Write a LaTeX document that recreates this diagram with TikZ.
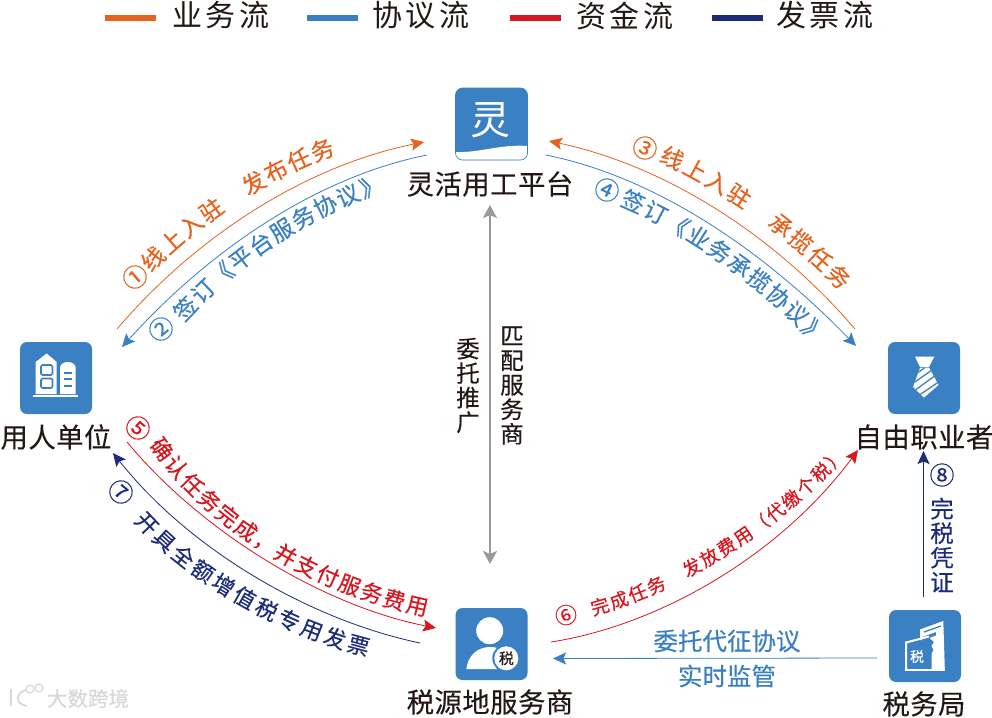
\documentclass[tikz,border=0pt]{standalone}
\usepackage{fontspec}
\usetikzlibrary{arrows.meta,decorations.text}
\setmainfont{Noto Sans CJK SC}
\newfontfamily\medfont[FakeBold=0.35]{Noto Sans CJK SC}
\newfontfamily\legfont[LetterSpace=12]{Noto Sans CJK SC}
\newfontfamily\nodefont[FakeBold=0.25,LetterSpace=2]{Noto Sans CJK SC}
\definecolor{cblue}{HTML}{3B80C2}
\definecolor{corange}{HTML}{E5621F}
\definecolor{cred}{HTML}{D7171F}
\definecolor{cnavy}{HTML}{1C2C78}
\definecolor{cdark}{HTML}{231815}
\definecolor{cgrey}{HTML}{999999}
\definecolor{cwater}{HTML}{D8D8D8}
\newcommand{\fs}[1]{\fontsize{#1}{#1}\selectfont}
\newcommand{\arclabel}[5]{\path[decorate,decoration={text along path,text={|\medfont\fs{#2}\color{#1}|#3},text align=fit to path}] #4 #5;}
\tikzset{
  iconbox/.style={fill=cblue,rounded corners=7pt,minimum width=72pt,minimum height=72pt,inner sep=0pt,anchor=center},
  nodetitle/.style={text=cdark,font=\nodefont\fs{27.3},inner sep=0pt,anchor=center},
  legendbar/.style={line width=5.5pt},
  legendtext/.style={text=cdark,font=\legfont\fs{30},inner sep=0pt,anchor=center},
  flow/.style={draw=#1,line width=0.8pt,-{Stealth[length=13pt,width=12pt,inset=2.5pt]},#1},
  numlabel/.style={text=#1,font=\medfont\fs{25},inner sep=0pt,anchor=center},
  vertlabel/.style={text=#1,font=\medfont\fs{23.5},inner sep=0pt,anchor=center,align=center},
  hlabel/.style={text=#1,font=\medfont\fs{24.5},inner sep=0pt,anchor=center},
  matchline/.style={draw=cgrey,line width=2pt,{Stealth[length=13pt,width=14pt,inset=3pt]}-{Stealth[length=13pt,width=14pt,inset=3pt]}},
  whitefill/.style={fill=white,draw=none},
  bluestroke/.style={draw=cblue,line width=1.6pt},
}
\begin{document}
\begin{tikzpicture}[x=1pt,y=-1pt]
\useasboundingbox (0,0) rectangle (992,717);
\fill[white] (0,0) rectangle (992,717);

% legend
\draw[legendbar,corange] (105,18) -- (156,18);
\node[legendtext] (l1) at (221,15.5) {业务流};
\draw[legendbar,cblue] (307,18) -- (358,18);
\node[legendtext] (l2) at (421,15.5) {协议流};
\draw[legendbar,cred] (510,18) -- (561,18);
\node[legendtext] (l3) at (625,15.5) {资金流};
\draw[legendbar,cnavy] (712,18) -- (763,18);
\node[legendtext] (l4) at (825,15.5) {发票流};

% platform icon
\node[iconbox] (pf) at (491.5,124) {};
\begin{scope}
\clip[rounded corners=7pt] (455.5,88) rectangle (527.5,160);
\fill[white] (455.5,152) .. controls (480,153) and (500,144) .. (527.5,146) -- (527.5,160) -- (455.5,160) -- cycle;
\end{scope}
\draw[cblue,line width=0.6pt,rounded corners=7pt] (455.5,88) rectangle (527.5,160);
\node[text=white,font=\fs{40},inner sep=0] (pfg) at (490.5,120.5) {灵};
\node[nodetitle] (pft) at (490,184) {灵活用工平台};

% employer icon
\node[iconbox] (em) at (56,378) {};
\path[whitefill] (35.7,394) -- (35.7,362) -- (46.7,353.5) -- (56.7,362) -- (56.7,394) -- cycle;
\path[whitefill] (60,394) -- (60,368) .. controls (60,360) and (75.7,360) .. (75.7,368) -- (75.7,394) -- cycle;
\path[whitefill] (33.3,394.5) rectangle (78.3,396.5);
\draw[bluestroke,rounded corners=1.5pt] (41,365) rectangle (52.5,375);
\draw[bluestroke,rounded corners=1.5pt] (41,378.5) rectangle (52.5,388);
\draw[bluestroke] (64.3,373) -- (71.7,373) (64.3,379) -- (71.7,379) (64.3,386) -- (71.7,386);
\node[nodetitle] (emt) at (56,437) {用人单位};

% freelancer icon
\node[iconbox] (fr) at (924,378) {};
\path[whitefill] (915,356.7) -- (934.3,356.7) -- (929,367) -- (920,367) -- cycle;
\begin{scope}
\clip (920,368) -- (929,367.5) -- (938.5,385) -- (924,397.5) -- (913,387) -- cycle;
\fill[white] (905,350) rectangle (945,400);
\draw[cblue,line width=1.3pt] (912,377) -- (927,366) (912,384) -- (932,370) (914,391) -- (936,375) (918,396) -- (940,381);
\end{scope}
\node[nodetitle] (frt) at (924,437) {自由职业者};

% service provider icon
\node[iconbox] (sp) at (491.5,644) {};
\fill[white] (489.7,630.7) circle[radius=13.5];
\fill[white] (466.3,669) .. controls (468,655) and (478,647) .. (490,647) .. controls (500,647) and (512,652) .. (514,669) -- cycle;
\fill[cblue] (506.3,658.3) circle[radius=14];
\fill[white] (506.3,658.3) circle[radius=12];
\node[text=cdark,font=\medfont\fs{15},inner sep=0] (spg) at (506.3,658.3) {税};
\node[nodetitle] (spt) at (490,702) {税源地服务商};

% tax bureau icon
\node[iconbox] (tb) at (925,646) {};
\path[whitefill] (920,629.5) -- (943.3,621) -- (944.8,669) -- (931.5,669) -- (931.5,654) -- (933.5,650) -- (931.5,646) -- (934,642) -- (929.5,638) -- (936,635.5) -- (936,632) -- (922,637) -- (922,640) -- (920,640) -- cycle;
\draw[white,line width=2pt] (906,669) -- (906,642.5) -- (929,636.5);
\draw[white,line width=1.6pt] (904.5,670) -- (945,670);
\draw[cblue,line width=1.3pt] (924,632) -- (941,626);
\node[text=white,font=\medfont\fs{14},inner sep=0] (tbg) at (917,656.5) {税};
\node[nodetitle] (tbt) at (924,704) {税务局};

% flow end points
\coordinate (a1s) at (117,329);  \coordinate (a1e) at (424,142);
\coordinate (a2s) at (427,155);  \coordinate (a2e) at (122,347);
\coordinate (a3s) at (855,329);  \coordinate (a3e) at (549,141);
\coordinate (a4s) at (546,155);  \coordinate (a4e) at (856,346);
\coordinate (a5s) at (127,442);  \coordinate (a5e) at (436,628);
\coordinate (a6s) at (551,642);  \coordinate (a6e) at (858,450);
\coordinate (a7s) at (420,643);  \coordinate (a7e) at (113,453);
\coordinate (a8s) at (923.5,597);\coordinate (a8e) at (923.5,451);
\coordinate (a9s) at (877,658);  \coordinate (a9e) at (553,658.5);
\coordinate (m1) at (490,205);   \coordinate (m2) at (490,564);

\draw[flow=corange] (a1s) .. controls (200,232) and (310,165) .. (a1e);
\draw[flow=cblue]   (a2s) .. controls (312,178) and (205,255) .. (a2e);
\draw[flow=corange] (a3s) .. controls (772,232) and (662,165) .. (a3e);
\draw[flow=cblue]   (a4s) .. controls (660,178) and (768,255) .. (a4e);
\draw[flow=cred]    (a5s) .. controls (200,530) and (320,605) .. (a5e);
\draw[flow=cred]    (a6s) .. controls (660,625) and (780,555) .. (a6e);
\draw[flow=cnavy]   (a7s) .. controls (310,620) and (190,550) .. (a7e);
\draw[flow=cnavy]   (a8s) -- (a8e);
\draw[flow=cblue]   (a9s) -- (a9e);
\draw[matchline] (m1) -- (m2);

% curved labels
\node[numlabel=corange,rotate=40] (n1) at (135,277) {①};
\arclabel{corange}{23}{线上入驻　发布任务}{(151,273) .. controls (205,218) and (270,178) .. (336,154)}{}
\node[numlabel=cblue,rotate=40] (n2) at (161,329) {②};
\arclabel{cblue}{23}{签订《平台服务协议》}{(184,323) .. controls (238,262) and (315,213) .. (385,191)}{}
\node[numlabel=corange,rotate=-25] (n3) at (645,148) {③};
\arclabel{corange}{23}{线上入驻　承揽任务}{(658,161) .. controls (700,180) and (780,225) .. (840,291)}{}
\node[numlabel=cblue,rotate=-25] (n4) at (607,190) {④};
\arclabel{cblue}{23}{签订《业务承揽协议》}{(619,205) .. controls (670,225) and (765,285) .. (815,346)}{}
\node[numlabel=cred,rotate=-40] (n5) at (138,428) {⑤};
\arclabel{cred}{22}{确认任务完成，并支付服务费用}{(149,445) .. controls (200,520) and (300,590) .. (426,616)}{}
\node[numlabel=cred,font=\medfont\fs{22},rotate=20] (n6) at (566,615) {⑥};
\arclabel{cred}{18.5}{完成任务　发放费用（代缴个税）}{(593,615.5) .. controls (665,597) and (770,540) .. (846,456)}{}
\node[numlabel=cnavy,rotate=-40] (n7) at (121,492) {⑦};
\arclabel{cnavy}{22}{开具全额增值税专用发票}{(133.5,521) .. controls (185,580) and (280,635) .. (367,656)}{}

% straight labels
\node[hlabel=cblue] (t1) at (727,641) {委托代征协议};
\node[hlabel=cblue] (t2) at (727,676) {实时监管};
\node[numlabel=cnavy] (n8) at (942,475) {⑧};
\node[vertlabel=cnavy] (t3) at (942,545) {完\\[1pt]税\\[1pt]凭\\[1pt]证};
\node[vertlabel=cdark] (t4) at (468,385.5) {委\\[1pt]托\\[1pt]推\\[1pt]广};
\node[vertlabel=cdark] (t5) at (512,385.5) {匹\\[1pt]配\\[1pt]服\\[1pt]务\\[1pt]商};

% watermark
\node[text=cwater,font=\medfont\fs{20.5},inner sep=0,anchor=center] (wm) at (88,698.5) {大数跨境};
\draw[cwater,line width=1.8pt] (11,689) -- (11,706);
\draw[cwater,line width=1.8pt] (26,690) .. controls (16,692) and (14,704) .. (27,706);
\draw[cwater,line width=1.2pt] (30,689) circle[radius=4];
\draw[cwater,line width=1.2pt] (39,688) circle[radius=4];
\end{tikzpicture}
\end{document}
